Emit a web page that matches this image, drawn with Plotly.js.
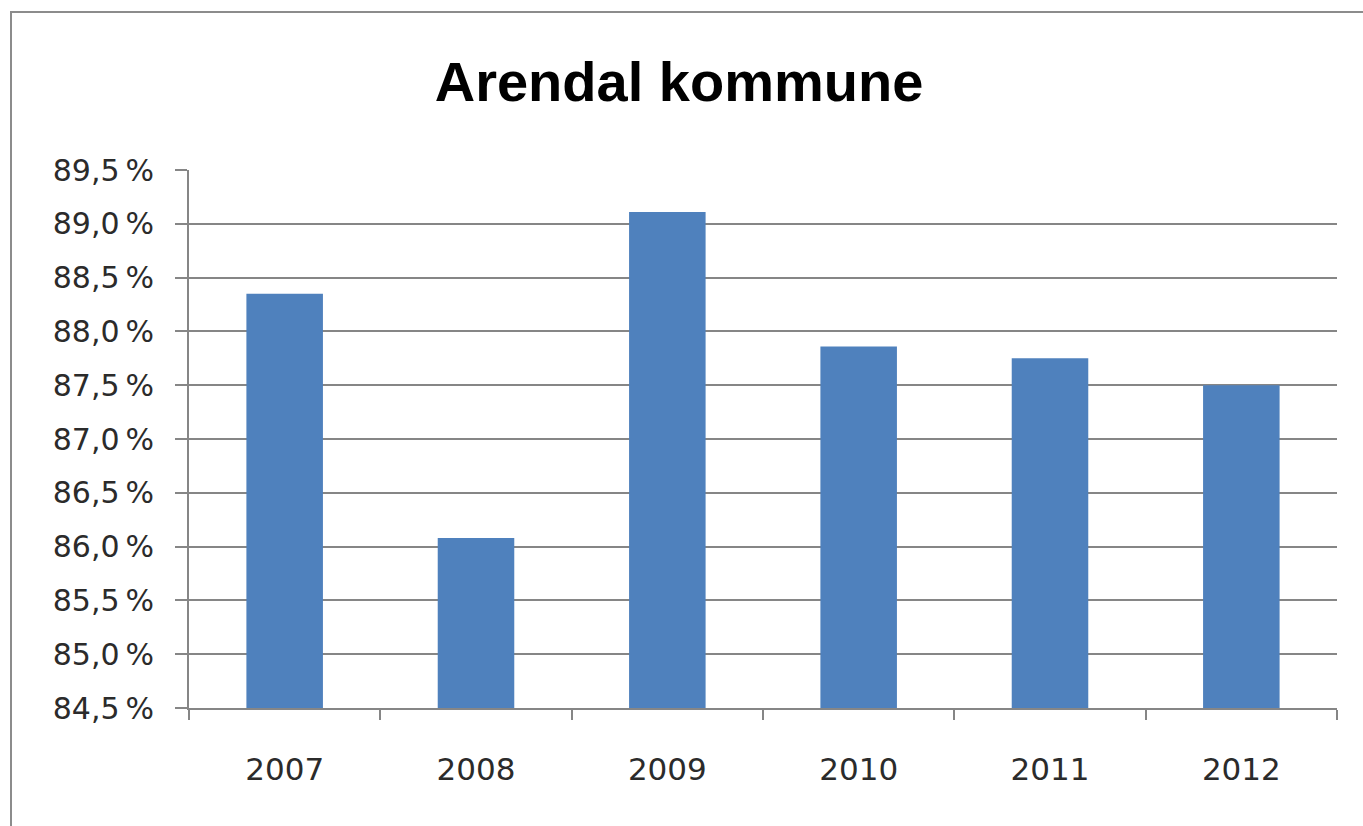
<!DOCTYPE html>
<html>
<head>
<meta charset="utf-8">
<script src="https://cdn.plot.ly/plotly-3.0.1.min.js"></script>
<style>
  html, body { margin: 0; padding: 0; background: #ffffff; }
  #chart { width: 1363px; height: 826px; }
</style>
</head>
<body>
<div id="chart"></div>
<script>
const years = ['2007', '2008', '2009', '2010', '2011', '2012'];
const shares = [88.35, 86.08, 89.11, 87.86, 87.75, 87.50];
const chartTitle = 'Arendal kommune';

const W = 1363, H = 826;
const L = 189, R = 26, T = 170, B = 118;
const pw = W - L - R, ph = H - T - B;
function px2paperX(x) { return (x - L) / pw; }
function px2paperY(y) { return (H - B - y) / ph; }

const trace = {
  type: 'bar',
  x: years,
  y: shares,
  marker: { color: '#4F81BD', line: { width: 0 } },
  hoverinfo: 'x+y'
};

const layout = {
  width: W, height: H,
  margin: { l: L, r: R, t: T, b: B, pad: 0 },
  paper_bgcolor: '#ffffff',
  plot_bgcolor: '#ffffff',
  separators: ', ',
  showlegend: false,
  bargap: 0.6,
  title: {
    text: chartTitle,
    font: { family: 'Liberation Sans, Arial, sans-serif', size: 56, color: '#000000', weight: 'bold' },
    x: 679 / W, xref: 'container', xanchor: 'center',
    y: 1 - 81 / H, yref: 'container', yanchor: 'middle'
  },
  xaxis: {
    type: 'category',
    showgrid: false,
    showline: true, linecolor: '#868686', linewidth: 2,
    ticks: 'outside', tickson: 'boundaries', ticklen: 10, tickwidth: 2, tickcolor: '#868686',
    tickfont: { family: 'DejaVu Sans, sans-serif', size: 31, color: '#2b2b2b' },
    ticklabelstandoff: 33,
    fixedrange: true
  },
  yaxis: {
    range: [84.5, 89.5],
    dtick: 0.5, tick0: 84.5,
    tickformat: '.1f', ticksuffix: '\u2009%',
    showgrid: true, gridcolor: '#868686', gridwidth: 2,
    zeroline: false,
    showline: true, linecolor: '#868686', linewidth: 2,
    ticks: 'outside', ticklen: 12, tickwidth: 2, tickcolor: '#868686',
    tickfont: { family: 'DejaVu Sans, sans-serif', size: 30, color: '#2b2b2b' },
    ticklabelstandoff: 15,
    fixedrange: true
  },
  shapes: [{
    type: 'rect', xref: 'paper', yref: 'paper',
    x0: px2paperX(11), x1: px2paperX(W + 20),
    y0: px2paperY(H + 20), y1: px2paperY(12),
    line: { color: '#8c8c8c', width: 2 },
    fillcolor: 'rgba(0,0,0,0)',
    layer: 'below'
  }]
};

Plotly.newPlot('chart', [trace], layout, { displayModeBar: false, staticPlot: true });
</script>
</body>
</html>
